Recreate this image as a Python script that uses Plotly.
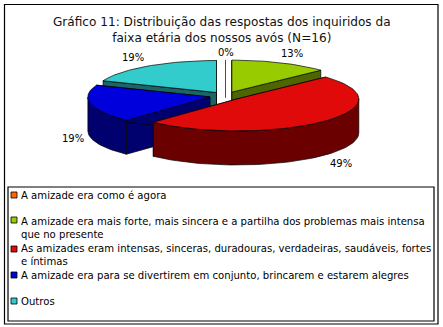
import math
import plotly.graph_objects as go

categories = [
    "A amizade era como é agora",
    "A amizade era mais forte, mais sincera e a partilha dos problemas mais intensa<br>que no presente",
    "As amizades eram intensas, sinceras, duradouras, verdadeiras, saudáveis, fortes<br>e íntimas",
    "A amizade era para se divertirem em conjunto, brincarem e estarem alegres",
    "Outros",
]
values = [0, 13, 49, 19, 19]
value_labels = ["0%", "13%", "49%", "19%", "19%"]
title_text = "Gráfico 11: Distribuição das respostas dos inquiridos da<br>faixa etária dos nossos avós (N=16)"

top_colors = ["#FF6600", "#99CC00", "#E00A0A", "#0000DC", "#33CCCC"]
side_colors = ["#803300", "#4D6600", "#6B0000", "#00006E", "#1A6666"]

# projection of the tilted, exploded pie
CX, CY, RX, RY, DEPTH, EXPLODE = 225.5, 96, 122, 32, 34, 16
FONT = "DejaVu Sans"

def pt(center, deg, h=0):
    t = math.radians(deg)
    return (center[0] + RX * math.sin(t), center[1] - RY * math.cos(t) + h)

def arc(center, a, b, h=0):
    n = max(2, int(abs(b - a) / 2) + 1)
    return [pt(center, a + (b - a) * i / (n - 1), h) for i in range(n)]

fig = go.Figure()

def poly(points, fill):
    xs = [p[0] for p in points] + [points[0][0]]
    ys = [p[1] for p in points] + [points[0][1]]
    fig.add_trace(go.Scatter(x=xs, y=ys, mode="lines", fill="toself", fillcolor=fill,
                             line=dict(color="#000000", width=0.7), hoverinfo="skip",
                             showlegend=False))

total = sum(values)
wedges = []
ang = 0.0
for i, v in enumerate(values):
    span = 360.0 * v / total
    mid = math.radians(ang + span / 2)
    center = (CX + EXPLODE * math.sin(mid), CY - EXPLODE * RY / RX * math.cos(mid))
    wedges.append((i, ang, ang + span, center))
    ang += span

# painter's order: back slices first
for i, a0, a1, c in sorted(wedges, key=lambda w: (w[3][1], w[0] != 2)):
    if a1 == a0:
        fig.add_trace(go.Scatter(x=[c[0], c[0]], y=[pt(c, a0)[1], c[1] + 6], mode="lines",
                                 line=dict(color="#000000", width=0.7), hoverinfo="skip",
                                 showlegend=False))
        continue
    # radial side faces
    for deg in (a0, a1):
        p = pt(c, deg)
        poly([c, p, (p[0], p[1] + DEPTH), (c[0], c[1] + DEPTH)], side_colors[i])
    # outer wall, front half only
    lo, hi = max(a0, 90), min(a1, 270)
    if hi > lo:
        poly(arc(c, lo, hi) + arc(c, hi, lo, DEPTH), side_colors[i])
    poly([c] + arc(c, a0, a1), top_colors[i])

# percentage labels
label_pos = {0: (226, 52), 1: (292, 53), 2: (341, 163), 3: (73, 138), 4: (133, 57)}
for i, txt in enumerate(value_labels):
    fig.add_annotation(x=label_pos[i][0], y=label_pos[i][1], text=txt, showarrow=False,
                       font=dict(family=FONT, size=10, color="#000"))

fig.add_annotation(x=222, y=29.5, text=title_text, showarrow=False,
                   font=dict(family=FONT, size=12.1, color="#111"))

# legend
rows_y = [195, 227.5, 255, 275, 301]
fig.add_trace(go.Scatter(x=[14] * len(categories), y=[195, 220, 249, 275, 301], mode="markers",
                         marker=dict(symbol="square", size=6, color=top_colors,
                                     line=dict(color="#000000", width=0.8)),
                         hoverinfo="skip", showlegend=False))
for txt, y in zip(categories, rows_y):
    fig.add_annotation(x=19, y=y, text=txt, showarrow=False, xanchor="left", align="left",
                       font=dict(family=FONT, size=10.1, color="#000"))

fig.update_layout(
    width=443, height=327, margin=dict(l=0, r=0, t=0, b=0),
    paper_bgcolor="#FFFFFF", plot_bgcolor="#FFFFFF", showlegend=False,
    xaxis=dict(range=[0, 443], visible=False, fixedrange=True),
    yaxis=dict(range=[327, 0], visible=False, fixedrange=True),
    shapes=[
        dict(type="rect", x0=4.5, y0=4.5, x1=438, y1=324, line=dict(color="#000", width=1.2)),
        dict(type="rect", x0=8, y0=187, x1=434, y1=321, line=dict(color="#000", width=1.2)),
    ],
)
fig.write_html("out.html", config=dict(displayModeBar=False),
               post_script="document.body.style.margin='0';")
